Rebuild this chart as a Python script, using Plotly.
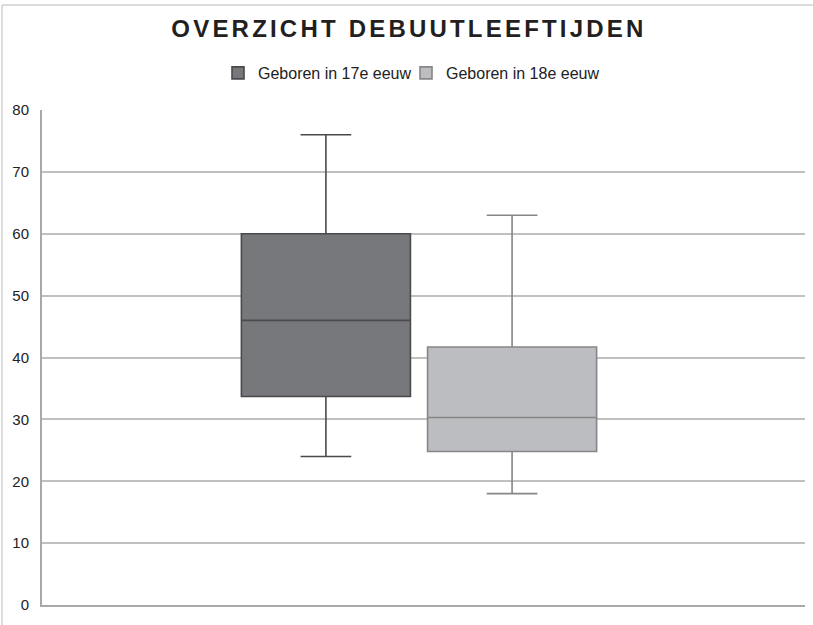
import plotly.graph_objects as go

# Data
series_names = ["Geboren in 17e eeuw", "Geboren in 18e eeuw"]
category = ["Debuutleeftijd"]
lower_whisker = [24, 18]
q1_values = [33.7, 24.8]
median_values = [46, 30.3]
q3_values = [60, 41.7]
upper_whisker = [76, 63]
y_ticks = [0, 10, 20, 30, 40, 50, 60, 70, 80]

fill_colors = ["#77787b", "#bcbdc0"]
line_colors = ["#4a4a4c", "#868688"]
legend_ids = ["legend", "legend2"]

fig = go.Figure()
for i, name in enumerate(series_names):
    fig.add_trace(go.Box(
        name=name,
        x=category,
        q1=[q1_values[i]],
        median=[median_values[i]],
        q3=[q3_values[i]],
        lowerfence=[lower_whisker[i]],
        upperfence=[upper_whisker[i]],
        boxpoints=False,
        fillcolor=fill_colors[i],
        line=dict(color=line_colors[i], width=1.6),
        whiskerwidth=0.3,
        hoverinfo="skip",
        showlegend=True,
        legend=legend_ids[i],
    ))

FONT = "Liberation Sans, Arial, sans-serif"

legend_common = dict(
    orientation="h",
    xanchor="left",
    y=1 + 37 / 495, yanchor="middle",
    font=dict(family=FONT, size=16, color="#222222"),
    bgcolor="rgba(0,0,0,0)",
    itemclick=False,
)

fig.update_layout(
    width=813, height=625,
    margin=dict(l=42, r=8, t=110, b=20),
    paper_bgcolor="white",
    plot_bgcolor="white",
    showlegend=True,
    boxmode="group",
    boxgap=0.512,
    boxgroupgap=0.092,
    title=dict(
        text="<b>OVERZICHT DEBUUTLEEFTIJDEN</b>",
        x=0.503, xanchor="center",
        y=1 - 28.7 / 625, yanchor="middle",
        font=dict(family=FONT, size=24, color="#231f20"),
    ),
    legend=dict(x=(218 - 42) / 763, **legend_common),
    legend2=dict(x=(406 - 42) / 763, **legend_common),
    xaxis=dict(
        type="category",
        range=[-0.4941, 0.5059],
        showticklabels=False,
        showgrid=False,
        showline=True,
        linecolor="#a8a8a8",
        linewidth=2,
        ticks="",
        fixedrange=True,
    ),
    yaxis=dict(
        range=[0, 80],
        tickvals=y_ticks,
        ticktext=[str(v) for v in y_ticks],
        showgrid=True,
        gridcolor="#c0c0c0",
        gridwidth=1.5,
        zeroline=False,
        showline=True,
        linecolor="#a8a8a8",
        linewidth=2,
        ticks="",
        ticklabelstandoff=8,
        tickfont=dict(family=FONT, size=15, color="#222222"),
        fixedrange=True,
    ),
    shapes=[
        dict(type="line", xref="paper", yref="paper",
             x0=(2 - 42) / 763, x1=(2 - 42) / 763,
             y0=(605 - 5) / 495, y1=(605 - 625) / 495,
             line=dict(color="#d0d0d0", width=1.5)),
        dict(type="line", xref="paper", yref="paper",
             x0=(2 - 42) / 763, x1=(813 - 42) / 763,
             y0=(605 - 5) / 495, y1=(605 - 5) / 495,
             line=dict(color="#d0d0d0", width=1.5)),
    ],
)

post = ("document.body.style.margin='0';"
        "document.body.style.overflow='hidden';"
        "document.querySelectorAll('.gtitle').forEach(function(e){"
        "e.setAttribute('letter-spacing','3.2px');});")

fig.write_html("out.html", config={"displayModeBar": False}, post_script=post)
